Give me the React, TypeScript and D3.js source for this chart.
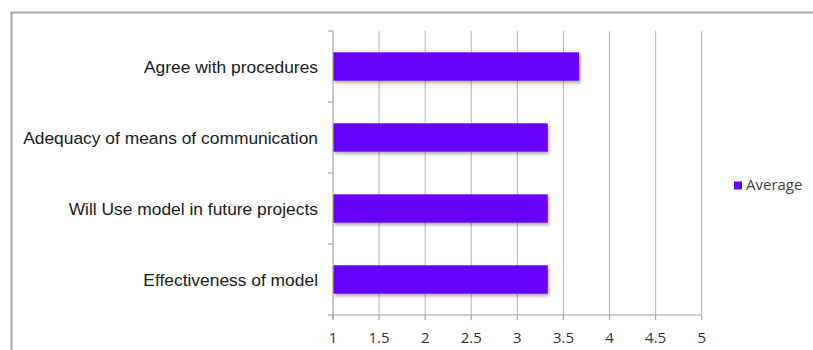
import React from "react";
import * as d3 from "d3";

const categories = [
  "Agree with procedures",
  "Adequacy of means of communication",
  "Will Use model in future projects",
  "Effectiveness of model",
];
const averageValues = [3.67, 3.33, 3.33, 3.33];
const xTicks = [1, 1.5, 2, 2.5, 3, 3.5, 4, 4.5, 5];
const seriesName = "Average";

const W = 813;
const H = 350;
const plotLeft = 333;
const plotRight = 701.7;
const plotTop = 31;
const plotBottom = 315;
const barColor = "#6605fb";

export default function App() {
  const x = d3.scaleLinear().domain([1, 5]).range([plotLeft, plotRight]);
  const y = d3
    .scaleBand<string>()
    .domain(categories)
    .range([plotTop, plotBottom])
    .paddingInner(0.6)
    .paddingOuter(0.3);
  const step = y.step();
  const boundaries = d3.range(categories.length + 1).map((i) => plotTop + i * step);

  return (
    <svg
      width={W}
      height={H}
      style={{ position: "absolute", left: 0, top: 0, background: "#fff" }}
    >
      <defs>
        <filter id="shadow" x="-10%" y="-30%" width="130%" height="180%">
          <feDropShadow dx="1.5" dy="2.5" stdDeviation="1.5" floodColor="#000" floodOpacity="0.3" />
        </filter>
      </defs>
      <rect x={0} y={0} width={W} height={H} fill="#fff" />
      {/* outer chart border */}
      <rect x={11.5} y={12.5} width={W + 20} height={H + 20} fill="none" stroke="#a8a8a8" strokeWidth={2} />

      {/* vertical gridlines */}
      {xTicks.slice(1).map((t) => (
        <line
          key={"g" + t}
          x1={x(t)}
          x2={x(t)}
          y1={plotTop}
          y2={plotBottom}
          stroke="#b5b5b5"
          strokeWidth={1}
        />
      ))}

      {/* bars */}
      {categories.map((c, i) => (
        <rect
          key={c}
          x={x(1)}
          y={y(c)}
          width={x(averageValues[i]) - x(1)}
          height={y.bandwidth()}
          fill={barColor}
          filter="url(#shadow)"
        />
      ))}

      {/* left axis */}
      <line x1={plotLeft} x2={plotLeft} y1={plotTop} y2={plotBottom + 5} stroke="#a6a6a6" strokeWidth={1.2} />
      {boundaries.map((b, i) => (
        <line key={"ct" + i} x1={plotLeft - 5} x2={plotLeft} y1={b} y2={b} stroke="#a6a6a6" strokeWidth={1.2} />
      ))}
      {categories.map((c) => (
        <text
          key={"l" + c}
          x={318}
          y={(y(c) as number) + y.bandwidth() / 2}
          dy="0.36em"
          textAnchor="end"
          fontFamily="'Liberation Sans', Arial, sans-serif"
          fontSize={17.4}
          fill="#1a1a1a"
        >
          {c}
        </text>
      ))}

      {/* bottom axis */}
      <line x1={plotLeft} x2={plotRight} y1={plotBottom} y2={plotBottom} stroke="#a6a6a6" strokeWidth={1.2} />
      {xTicks.map((t) => (
        <g key={"xt" + t}>
          <line x1={x(t)} x2={x(t)} y1={plotBottom} y2={plotBottom + 5} stroke="#a6a6a6" strokeWidth={1.2} />
          <text
            x={x(t)}
            y={343}
            textAnchor="middle"
            fontFamily="'Open Sans', sans-serif"
            fontSize={15}
            fill="#333"
          >
            {t}
          </text>
        </g>
      ))}

      {/* legend */}
      <rect x={734} y={181.5} width={8} height={8} fill={barColor} />
      <text x={746} y={190} fontFamily="'Open Sans', sans-serif" fontSize={15} fill="#404040">
        {seriesName}
      </text>
    </svg>
  );
}
